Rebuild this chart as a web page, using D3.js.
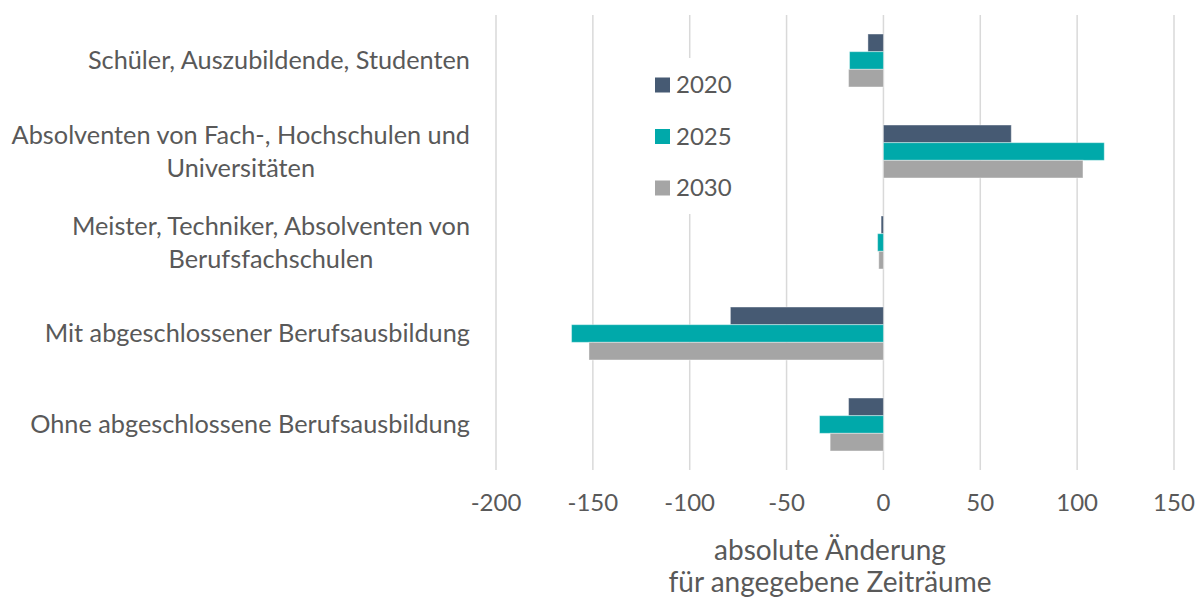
<!DOCTYPE html>
<html>
<head>
<meta charset="utf-8">
<script src="https://cdn.jsdelivr.net/npm/d3@7"></script>
<style>
  body { margin: 0; background: #fff; }
  text { font-family: Lato, "Open Sans", sans-serif; fill: #595959; }
</style>
</head>
<body>
<div id="chart"></div>
<script>
const categories = [
    ["Schüler, Auszubildende, Studenten"],
    ["Absolventen von Fach-, Hochschulen und", "Universitäten"],
    ["Meister, Techniker, Absolventen von", "Berufsfachschulen"],
    ["Mit abgeschlossener Berufsausbildung"],
    ["Ohne abgeschlossene Berufsausbildung"]
];
const seriesNames = ["2020", "2025", "2030"];
const values2020 = [-8, 66, -1.2, -79, -18];
const values2025 = [-17.5, 114, -3, -161, -33];
const values2030 = [-18, 103, -2.4, -152, -27.5];
const xTicks = [-200, -150, -100, -50, 0, 50, 100, 150];
const axisTitle = ["absolute Änderung", "für angegebene Zeiträume"];

const colors = ["#465a73", "#00a9aa", "#a5a5a5"];
const series = [values2020, values2025, values2030];

const width = 1198;
const height = 599;
const plot = { left: 496, right: 1174, top: 15, bottom: 470 };
const fontSize = 24;
const labelSize = 25.3;
const titleSize = 28;

const svg = d3.select("#chart")
    .append("svg")
    .attr("width", width)
    .attr("height", height);

const x = d3.scaleLinear()
    .domain([-200, 150])
    .range([plot.left, plot.right]);

const y = d3.scaleBand()
    .domain(d3.range(categories.length))
    .range([plot.top, plot.bottom])
    .paddingInner(0.418)
    .paddingOuter(0.209);

const ySub = d3.scaleBand()
    .domain(d3.range(seriesNames.length))
    .range([0, y.bandwidth()]);

// gridlines
svg.append("g")
    .selectAll("line")
    .data(xTicks)
    .enter()
    .append("line")
    .attr("x1", d => x(d))
    .attr("x2", d => x(d))
    .attr("y1", plot.top)
    .attr("y2", plot.bottom)
    .attr("stroke", "#d9d9d9")
    .attr("stroke-width", 1.5);

// tick labels
svg.append("g")
    .selectAll("text")
    .data(xTicks)
    .enter()
    .append("text")
    .attr("x", d => x(d))
    .attr("y", 503)
    .attr("dy", "0.35em")
    .attr("text-anchor", "middle")
    .style("font-size", fontSize + "px")
    .text(d => d);

// bars
const groups = svg.append("g")
    .selectAll("g")
    .data(categories.map((c, i) => i))
    .enter()
    .append("g")
    .attr("transform", i => `translate(0, ${y(i)})`);

groups.selectAll("rect")
    .data(i => series.map((s, k) => ({ k, v: s[i] })))
    .enter()
    .append("rect")
    .attr("x", d => x(Math.min(0, d.v)))
    .attr("width", d => Math.abs(x(d.v) - x(0)))
    .attr("y", d => ySub(d.k))
    .attr("height", ySub.bandwidth())
    .attr("fill", d => colors[d.k])
    .attr("stroke", "#ffffff")
    .attr("stroke-opacity", 0.4)
    .attr("stroke-width", 1);

// category labels (lines centred on each other, block right-aligned)
const labelRight = 470;
const lineGap = 33;
categories.forEach((lines, i) => {
    const cy = y(i) + y.bandwidth() / 2;
    const g = svg.append("g");
    const texts = lines.map((t, j) => g.append("text")
        .attr("y", cy + (j - (lines.length - 1) / 2) * lineGap)
        .attr("dy", "0.35em")
        .attr("text-anchor", "middle")
        .style("font-size", labelSize + "px")
        .text(t));
    const maxW = d3.max(texts, t => t.node().getComputedTextLength());
    texts.forEach(t => t.attr("x", labelRight - maxW / 2));
});

// legend
const legend = svg.append("g");
legend.append("rect")
    .attr("x", 645)
    .attr("y", 58)
    .attr("width", 95)
    .attr("height", 156)
    .attr("fill", "#fff");
seriesNames.forEach((name, k) => {
    const cy = 85 + k * 51.5;
    legend.append("rect")
        .attr("x", 655)
        .attr("y", cy - 7.5)
        .attr("width", 15)
        .attr("height", 15)
        .attr("fill", colors[k]);
    legend.append("text")
        .attr("x", 676)
        .attr("y", cy)
        .attr("dy", "0.35em")
        .style("font-size", fontSize + "px")
        .text(name);
});

// axis title
svg.append("g")
    .selectAll("text")
    .data(axisTitle)
    .enter()
    .append("text")
    .attr("x", 830)
    .attr("y", (d, i) => 550 + i * 32)
    .attr("dy", "0.35em")
    .attr("text-anchor", "middle")
    .style("font-size", titleSize + "px")
    .text(d => d);
</script>
</body>
</html>
